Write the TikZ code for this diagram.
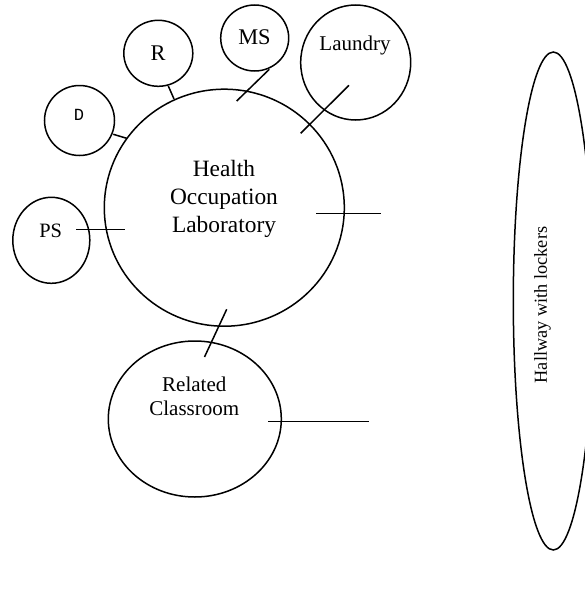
\documentclass[tikz,border=0pt]{standalone}
\usepackage{fontspec}
\setmainfont{Liberation Serif}
\newfontfamily\monofam{Liberation Mono}
\usetikzlibrary{shapes.geometric}

\begin{document}
\begin{tikzpicture}[x=1pt,y=-1pt,
  room/.style={draw, ellipse, line width=1.5pt, inner sep=0pt},
  wall/.style={line width=1.5pt},
  lbl/.style={inner sep=0pt, align=center}]
\useasboundingbox (0,0) rectangle (584,605);

% rooms
\node[room, minimum width=240pt, minimum height=237pt] (lab) at (224.3,207.7) {};
\node[room, minimum width=110pt, minimum height=115pt] (laundry) at (355.7,62.5) {};
\node[room, minimum width=68pt, minimum height=66pt] (ms) at (254.7,38) {};
\node[room, minimum width=69pt, minimum height=66pt] (r) at (158.3,53.3) {};
\node[room, minimum width=70pt, minimum height=70pt] (d) at (79.5,120.5) {};
\node[room, minimum width=77pt, minimum height=86pt] (ps) at (51.3,240.3) {};
\node[room, minimum width=173pt, minimum height=156pt] (rc) at (194.8,419) {};
\node[room, minimum width=80pt, minimum height=498pt] (hall) at (553.3,301) {};

% labels
\node[lbl, font=\fontsize{23.4}{28}\selectfont] (labtxt) at (224,198.5) {Health\\Occupation\\Laboratory};
\node[lbl, font=\fontsize{21}{25}\selectfont] (laundrytxt) at (355,45) {Laundry};
\node[lbl, font=\fontsize{22.4}{27}\selectfont] (mstxt) at (254.5,37) {MS};
\node[lbl, font=\fontsize{22.4}{27}\selectfont] (rtxt) at (158,53) {R};
\node[lbl, font=\monofam\fontsize{17}{20}\selectfont] (dtxt) at (79,115) {D};
\node[lbl, font=\fontsize{20.4}{25}\selectfont] (pstxt) at (50.7,230.7) {PS};
\node[lbl, font=\fontsize{21}{24}\selectfont] (rctxt) at (194.3,396.3) {Related\\Classroom};
\node[lbl, font=\fontsize{18.3}{22}\selectfont, rotate=90] (halltxt) at (542.5,305) {Hallway with lockers};

% doorways
\coordinate (rA) at (168.3,86);    \coordinate (rB) at (174,99);
\coordinate (dA) at (113.3,134.3); \coordinate (dB) at (126.7,138.3);
\coordinate (msA) at (269.3,69.3); \coordinate (msB) at (236.7,101);
\coordinate (laA) at (349,85.3);   \coordinate (laB) at (300.7,133.3);
\coordinate (psA) at (76,229.3);   \coordinate (psB) at (125.3,229.3);
\coordinate (hwA) at (316,213.3);  \coordinate (hwB) at (381,213.3);
\coordinate (rcA) at (226.7,309.3);\coordinate (rcB) at (204.5,357);
\coordinate (chA) at (268.3,421.3);\coordinate (chB) at (369.3,421.3);

\draw[wall] (rA) -- (rB);
\draw[wall] (dA) -- (dB);
\draw[wall] (msA) -- (msB);
\draw[wall] (laA) -- (laB);
\draw[wall] (psA) -- (psB);
\draw[wall] (hwA) -- (hwB);
\draw[wall] (rcA) -- (rcB);
\draw[wall] (chA) -- (chB);
\end{tikzpicture}
\end{document}
